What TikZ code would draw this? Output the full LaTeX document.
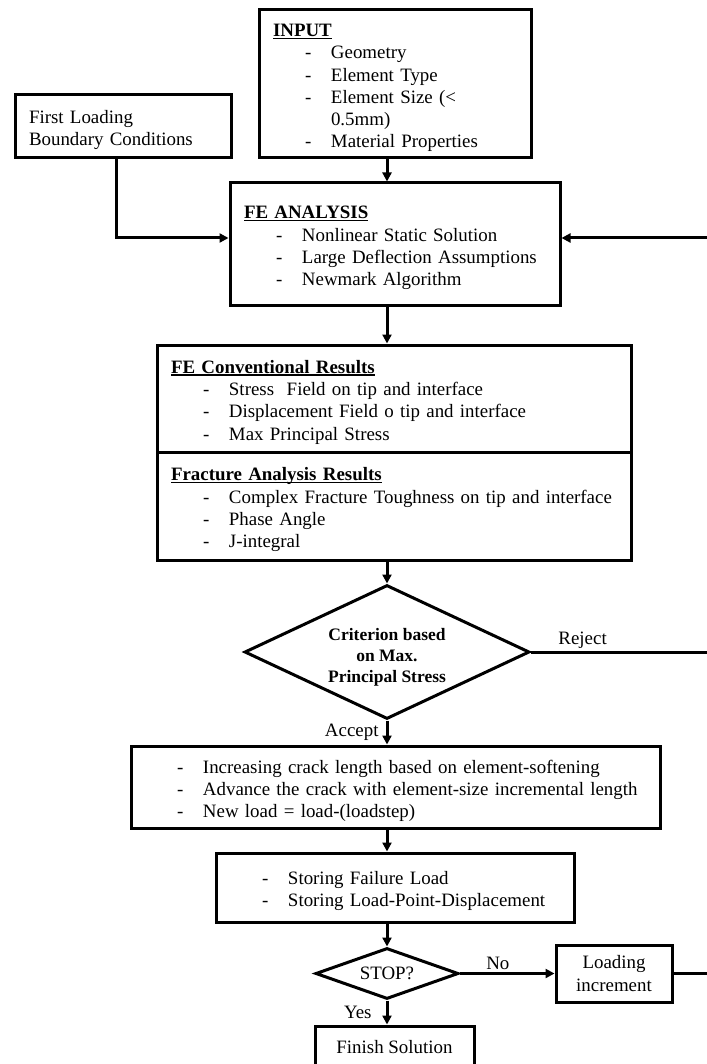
\documentclass[tikz,border=0pt]{standalone}
\usepackage{fontspec}
\setmainfont{Liberation Serif}
\usetikzlibrary{arrows.meta,positioning,shapes.geometric}

\newcommand{\hdline}[1]{\setbox0\hbox{\textbf{#1}}\rlap{\rule[-2.2pt]{\wd0}{1.3pt}}\box0}
\newcommand{\itm}[1]{\hspace*{32pt}\makebox[26pt][l]{-}\mbox{#1}}
\newcommand{\cnt}[1]{\hspace*{58pt}\mbox{#1}}

\begin{document}
\begin{tikzpicture}[
  x=1pt, y=1pt,
  font=\fontsize{18.9}{22.2}\selectfont,
  box/.style={draw, line width=3pt, align=left, inner xsep=14pt, inner ysep=0pt,
              text width=#1-28pt, minimum width=#1,
              execute at begin node={\rule{0pt}{20.5pt}}},
  cbox/.style={draw, line width=3pt, align=center, inner sep=0pt, minimum width=#1},
  dec/.style={draw, diamond, aspect=2.1, line width=3pt, inner sep=0pt, align=center},
  lbl/.style={inner sep=2pt},
  ar/.style={-{Triangle[length=9pt, width=9pt]}, line width=3pt},
  ln/.style={line width=3pt},
]
\useasboundingbox (0,0) rectangle (706,-1064);
\coordinate (axis) at (387,0);
\coordinate (loop) at (709,0);

%% ---------------- top : input and analysis ----------------
\node[box=272pt, minimum height=148pt] (input) at (395,-84)
  {\hdline{INPUT}\\
   \itm{Geometry}\\
   \itm{Element Type}\\
   \itm{Element Size (<}\\
   \cnt{0.5mm)}\\
   \itm{Material Properties}};
\node[box=216pt, minimum height=63pt] (fl) at (123,-126.5)
  {First Loading\\Boundary Conditions};
\node[box=330pt, minimum height=122pt] (feana) at (395,-244)
  {\hdline{FE ANALYSIS}\\
   \itm{Nonlinear Static Solution}\\
   \itm{Large Deflection Assumptions}\\
   \itm{Newmark Algorithm}};

\draw[ar] (input.south -| axis) -- (feana.north -| axis);
\draw[ar] ([xshift=-7pt]fl.south) |- ([yshift=6pt]feana.west);

%% ---------------- results ----------------
\node[box=474pt, minimum height=107pt] (res1) at (394,-398.5)
  {\hdline{FE Conventional Results}\\
   \itm{Stress\ \ Field on tip and interface}\\
   \itm{Displacement Field o tip and interface}\\
   \itm{Max Principal Stress}};
\node[box=474pt, minimum height=108pt] (res2) at (394,-506)
  {\hdline{Fracture Analysis Results}\\
   \itm{Complex Fracture Toughness on tip and interface}\\
   \itm{Phase Angle}\\
   \itm{J-integral}};

\draw[ar] (feana.south -| axis) -- (res1.north -| axis);

%% ---------------- criterion ----------------
\node[dec, minimum width=285pt, minimum height=134pt,
      font=\fontsize{17.5}{21}\selectfont\bfseries] (crit) at (387,-652)
  {\rule{0pt}{22pt}Criterion based\\on Max.\\Principal Stress};

\draw[ar] (res2.south -| axis) -- (crit.north);
\draw[ln] (crit.east) -- node[lbl, above, pos=.29]{Reject} (crit.east -| loop);

%% ---------------- crack growth and storage ----------------
\node[box=529pt, minimum height=82pt] (crack) at (395.5,-787)
  {\itm{Increasing crack length based on element-softening}\\
   \itm{Advance the crack with element-size incremental length}\\
   \itm{New load = load-(loadstep)}};
\node[box=358pt, minimum height=69pt] (store) at (395,-887.5)
  {\itm{Storing Failure Load}\\
   \itm{Storing Load-Point-Displacement}};

\draw[ar] (crit.south) -- node[lbl, left=5pt]{Accept} (crack.north -| axis);
\draw[ar] (crack.south -| axis) -- (store.north -| axis);

%% ---------------- stop test ----------------
\node[dec, minimum width=143pt, minimum height=51pt] (stop) at (387,-973.5) {STOP?};
\node[cbox=116pt, minimum height=57pt] (loadinc) at (614,-973.5) {Loading\\increment};
\node[cbox=159pt, minimum height=42pt] (finish) at (394.5,-1047) {Finish Solution};

\draw[ar] (store.south -| axis) -- (stop.north);
\draw[ar] (stop.east) -- node[lbl, above, pos=.4]{No} (loadinc.west);
\draw[ar] (stop.south) -- node[lbl, left=12pt]{Yes} (finish.north -| axis);

%% loop back to the analysis
\draw[ar] (loadinc.east) -- (loadinc.east -| loop) |- ([yshift=6pt]feana.east);

\end{tikzpicture}
\end{document}
